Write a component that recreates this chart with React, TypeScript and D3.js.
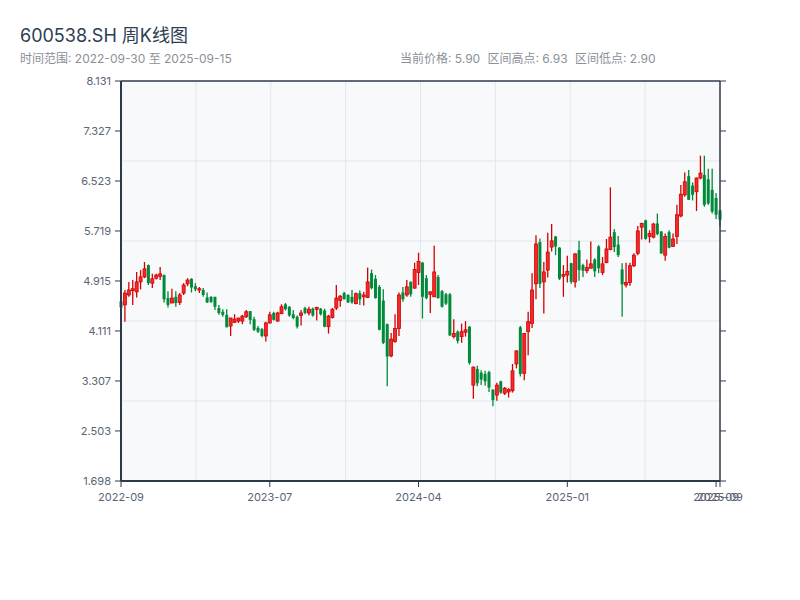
import React from "react";
import * as d3 from "d3";

// 600538.SH weekly candles, 2022-09-30 .. 2025-09-15
const title = "600538.SH 周K线图";
const rangeText = "时间范围: 2022-09-30 至 2025-09-15";
const statLabels = ["当前价格: 5.90", "区间高点: 6.93", "区间低点: 2.90"];

const open = [
  4.59, 4.53, 4.69, 4.76, 4.74, 4.9, 4.98, 5.17, 4.88, 4.96, 4.99, 5.01, 4.64, 4.56, 4.66, 4.57, 4.72, 4.87, 4.95, 4.83,
  4.77, 4.77, 4.65, 4.66, 4.66, 4.48, 4.42, 4.37, 4.19, 4.25, 4.27, 4.27, 4.34, 4.43, 4.3, 4.16, 4.14, 4.03, 4.24, 4.4,
  4.27, 4.39, 4.54, 4.5, 4.38, 4.34, 4.36, 4.48, 4.4, 4.47, 4.46, 4.47, 4.44, 4.18, 4.33, 4.48, 4.6, 4.72, 4.69, 4.66,
  4.55, 4.72, 4.66, 4.65, 5.04, 4.95, 4.82, 4.6, 4.22, 3.71, 3.94, 4.15, 4.73, 4.69, 4.9, 4.8, 5.05, 5.21, 4.96, 4.7,
  4.66, 4.98, 4.75, 4.7, 4.7, 4.02, 4.1, 4.02, 4.09, 4.18, 3.24, 3.5, 3.44, 3.42, 3.45, 3.17, 3.08, 3.3, 3.11, 3.13,
  3.15, 3.58, 4.17, 3.43, 4.1, 4.23, 4.87, 5.54, 4.9, 5.09, 5.46, 5.63, 5.45, 4.99, 5.01, 5.2, 4.9, 5.41, 5.17, 5.08,
  5.12, 5.26, 5.47, 5.05, 5.21, 5.42, 5.7, 5.5, 5.1, 4.85, 4.89, 5.16, 5.36, 5.78, 5.89, 5.63, 5.62, 5.84, 5.71, 5.33,
  5.7, 5.47, 5.63, 5.96, 6.3, 6.6, 6.45, 6.35, 6.57, 6.62, 6.55, 6.38, 6.25, 6.05,
];
const high = [
  4.62, 4.77, 4.9, 4.93, 5.06, 5.09, 5.22, 5.18, 5.03, 5.03, 5.14, 5.02, 4.75, 4.79, 4.75, 4.72, 4.88, 4.96, 4.96, 4.88,
  4.82, 4.8, 4.73, 4.67, 4.66, 4.53, 4.46, 4.46, 4.32, 4.38, 4.32, 4.37, 4.45, 4.43, 4.34, 4.19, 4.16, 4.26, 4.42, 4.42,
  4.42, 4.54, 4.56, 4.51, 4.45, 4.36, 4.45, 4.5, 4.5, 4.49, 4.5, 4.48, 4.47, 4.37, 4.48, 4.85, 4.69, 4.74, 4.7, 4.77,
  4.73, 4.76, 4.74, 5.13, 5.1, 5.01, 4.85, 4.78, 4.23, 4.08, 4.38, 4.73, 4.82, 4.93, 4.91, 5.21, 5.37, 5.22, 5.01, 4.75,
  5.48, 5.01, 4.77, 4.72, 4.72, 4.3, 4.12, 4.23, 4.27, 4.19, 3.54, 3.55, 3.48, 3.47, 3.47, 3.17, 3.28, 3.31, 3.21, 3.19,
  3.58, 3.8, 4.19, 4.08, 4.42, 5.04, 5.65, 5.6, 5.22, 5.69, 5.83, 5.64, 5.46, 5.17, 5.32, 5.21, 5.36, 5.56, 5.19, 5.26,
  5.55, 5.28, 5.49, 5.3, 5.59, 6.42, 5.75, 5.64, 5.2, 5.21, 5.21, 5.36, 5.8, 5.85, 5.9, 5.73, 5.85, 6.0, 5.72, 5.68,
  5.73, 5.68, 6.14, 6.46, 6.66, 6.7, 6.5, 6.58, 6.93, 6.93, 6.72, 6.72, 6.33, 6.06,
];
const low = [
  4.47, 4.26, 4.66, 4.53, 4.65, 4.78, 4.96, 4.85, 4.8, 4.94, 4.93, 4.57, 4.49, 4.56, 4.5, 4.53, 4.69, 4.83, 4.73, 4.75,
  4.72, 4.66, 4.56, 4.56, 4.45, 4.37, 4.34, 4.17, 4.03, 4.24, 4.24, 4.22, 4.32, 4.22, 4.11, 4.08, 4.01, 3.94, 4.23, 4.28,
  4.26, 4.38, 4.44, 4.34, 4.3, 4.15, 4.2, 4.38, 4.36, 4.34, 4.28, 4.36, 4.17, 4.07, 4.31, 4.45, 4.5, 4.62, 4.56, 4.55,
  4.54, 4.53, 4.52, 4.64, 4.78, 4.63, 4.12, 3.9, 3.22, 3.69, 3.92, 4.03, 4.58, 4.66, 4.66, 4.79, 4.85, 4.31, 4.62, 4.4,
  4.66, 4.63, 4.49, 4.53, 4.03, 3.99, 3.91, 3.92, 4.02, 3.57, 3.02, 3.22, 3.24, 3.23, 3.13, 2.9, 2.99, 3.1, 3.08, 3.04,
  3.12, 3.51, 3.38, 3.32, 3.72, 4.16, 4.62, 4.8, 4.39, 4.97, 5.39, 5.33, 4.93, 4.66, 4.89, 4.87, 4.81, 4.92, 4.98, 5.04,
  5.12, 4.98, 5.04, 5.01, 5.2, 5.41, 5.38, 5.3, 4.34, 4.81, 4.84, 5.14, 5.33, 5.58, 5.58, 5.53, 5.6, 5.65, 5.35, 5.24,
  5.44, 5.47, 5.51, 5.94, 6.27, 6.22, 6.21, 6.04, 6.55, 6.11, 6.14, 6.0, 5.91, 5.79,
];
const close = [
  4.49, 4.72, 4.77, 4.79, 4.9, 4.98, 5.11, 4.88, 4.95, 5.01, 5.03, 4.62, 4.53, 4.64, 4.56, 4.69, 4.85, 4.93, 4.81, 4.78,
  4.79, 4.69, 4.57, 4.58, 4.5, 4.4, 4.37, 4.17, 4.32, 4.3, 4.32, 4.35, 4.42, 4.29, 4.13, 4.1, 4.03, 4.24, 4.37, 4.29,
  4.4, 4.5, 4.46, 4.36, 4.32, 4.18, 4.4, 4.4, 4.46, 4.36, 4.49, 4.38, 4.18, 4.35, 4.46, 4.64, 4.67, 4.62, 4.57, 4.57,
  4.71, 4.62, 4.69, 4.9, 4.8, 4.64, 4.13, 3.92, 3.7, 3.98, 4.15, 4.69, 4.62, 4.82, 4.7, 5.1, 5.23, 4.66, 4.64, 4.74,
  5.06, 4.64, 4.5, 4.55, 4.04, 4.07, 3.95, 4.1, 4.13, 3.6, 3.53, 3.27, 3.33, 3.3, 3.2, 3.0, 3.24, 3.12, 3.19, 3.17,
  3.47, 3.79, 3.42, 4.07, 4.26, 4.77, 5.51, 4.87, 5.06, 5.38, 5.56, 5.47, 4.95, 5.02, 5.07, 4.9, 5.35, 5.09, 5.08, 5.13,
  5.19, 5.07, 5.12, 5.19, 5.43, 5.62, 5.46, 5.33, 4.86, 4.89, 5.16, 5.33, 5.72, 5.84, 5.59, 5.68, 5.83, 5.67, 5.36, 5.63,
  5.45, 5.59, 5.98, 6.31, 6.51, 6.22, 6.3, 6.57, 6.65, 6.14, 6.16, 6.03, 5.98, 5.9,
];

const yTicks = [1.698, 2.503, 3.307, 4.111, 4.915, 5.719, 6.523, 7.327, 8.131];
const xTickLabels = ["2022-09", "2023-07", "2024-04", "2025-01", "2025-09", "2025-09"];
const xTickStep = 38;

const W = 800;
const H = 600;
const margin = { top: 81, right: 80, bottom: 119, left: 121 };
const FONT = "Inter, 'Noto Sans CJK SC', sans-serif";
const AXIS = "#2c3a4b";
const GRID = "#e3e7ec";
const UP = "#d40000";
const UP_FILL = "#f02a2a";
const DOWN = "#008a3a";

export default function App() {
  const n = close.length;
  const left = margin.left;
  const right = W - margin.right;
  const top = margin.top;
  const bottom = H - margin.bottom;

  const x = d3.scalePoint<number>().domain(d3.range(n)).range([left, right]);
  const xLin = d3.scaleLinear().domain([0, n - 1]).range([left, right]);
  const y = d3.scaleLinear().domain([yTicks[0], yTicks[yTicks.length - 1]]).range([bottom, top]);

  const tickIdx = [...d3.range(0, n, xTickStep), n - 1];
  const hGrid = d3.range(1, 5).map((k) => y.invert(bottom - ((bottom - top) * k) / 5));
  const vGrid = d3.range(1, 8).map((k) => ((n - 1) * k) / 8);

  const bodyW = 3;

  return (
    <svg width={W} height={H} style={{ position: "absolute", left: 0, top: 0, background: "#fff" }} fontFamily={FONT}>
      <text x={20} y={42} fontSize={18} fill="#2c3e50">{title}</text>
      <text x={20} y={63} fontSize={12} fill="#8a9099">{rangeText}</text>
      {statLabels.map((s, i) => (
        <text key={i} x={400 + i * 87.5} y={63} fontSize={12} fill="#8a9099">{s}</text>
      ))}

      <rect x={left} y={top} width={right - left} height={bottom - top} fill="#f7f9fb" />
      {hGrid.map((v, i) => (
        <line key={"h" + i} x1={left} x2={right} y1={y(v)} y2={y(v)} stroke={GRID} strokeWidth={1} />
      ))}
      {vGrid.map((v, i) => (
        <line key={"v" + i} x1={xLin(v)} x2={xLin(v)} y1={top} y2={bottom} stroke={GRID} strokeWidth={1} />
      ))}

      {close.map((c, i) => {
        const o = open[i];
        const up = c >= o;
        const cx = x(i) ?? 0;
        const yTop = y(Math.max(o, c));
        const yBot = y(Math.min(o, c));
        const col = up ? UP : DOWN;
        return (
          <g key={i}>
            <line x1={cx} x2={cx} y1={y(high[i])} y2={y(low[i])} stroke={col} strokeWidth={1.3} />
            <rect
              x={cx - bodyW / 2}
              y={yTop}
              width={bodyW}
              height={Math.max(1, yBot - yTop)}
              fill={up ? UP_FILL : DOWN}
              stroke={col}
              strokeWidth={up ? 0.8 : 0}
            />
          </g>
        );
      })}

      {/* frame */}
      <line x1={left} x2={right} y1={top} y2={top} stroke={AXIS} strokeWidth={1.5} />
      <line x1={right} x2={right} y1={top} y2={bottom} stroke={AXIS} strokeWidth={1.5} />
      <line x1={left} x2={left} y1={top} y2={bottom} stroke={AXIS} strokeWidth={2} />
      <line x1={left} x2={right} y1={bottom} y2={bottom} stroke={AXIS} strokeWidth={2} />

      {yTicks.map((v, i) => (
        <g key={"yt" + i}>
          <line x1={left - 6} x2={left} y1={y(v)} y2={y(v)} stroke={AXIS} strokeWidth={1} />
          <line x1={right} x2={right + 6} y1={y(v)} y2={y(v)} stroke={AXIS} strokeWidth={1} />
          <text x={left - 10} y={y(v)} dy="0.35em" textAnchor="end" fontSize={11} fill="#5a6474">
            {v.toFixed(3)}
          </text>
        </g>
      ))}

      {tickIdx.map((t, i) => (
        <g key={"xt" + i}>
          <line x1={x(t)} x2={x(t)} y1={bottom} y2={bottom + 6} stroke={AXIS} strokeWidth={1} />
          <text x={x(t)} y={bottom + 20} textAnchor="middle" fontSize={11} fill="#5a6474">
            {xTickLabels[i]}
          </text>
        </g>
      ))}
    </svg>
  );
}
